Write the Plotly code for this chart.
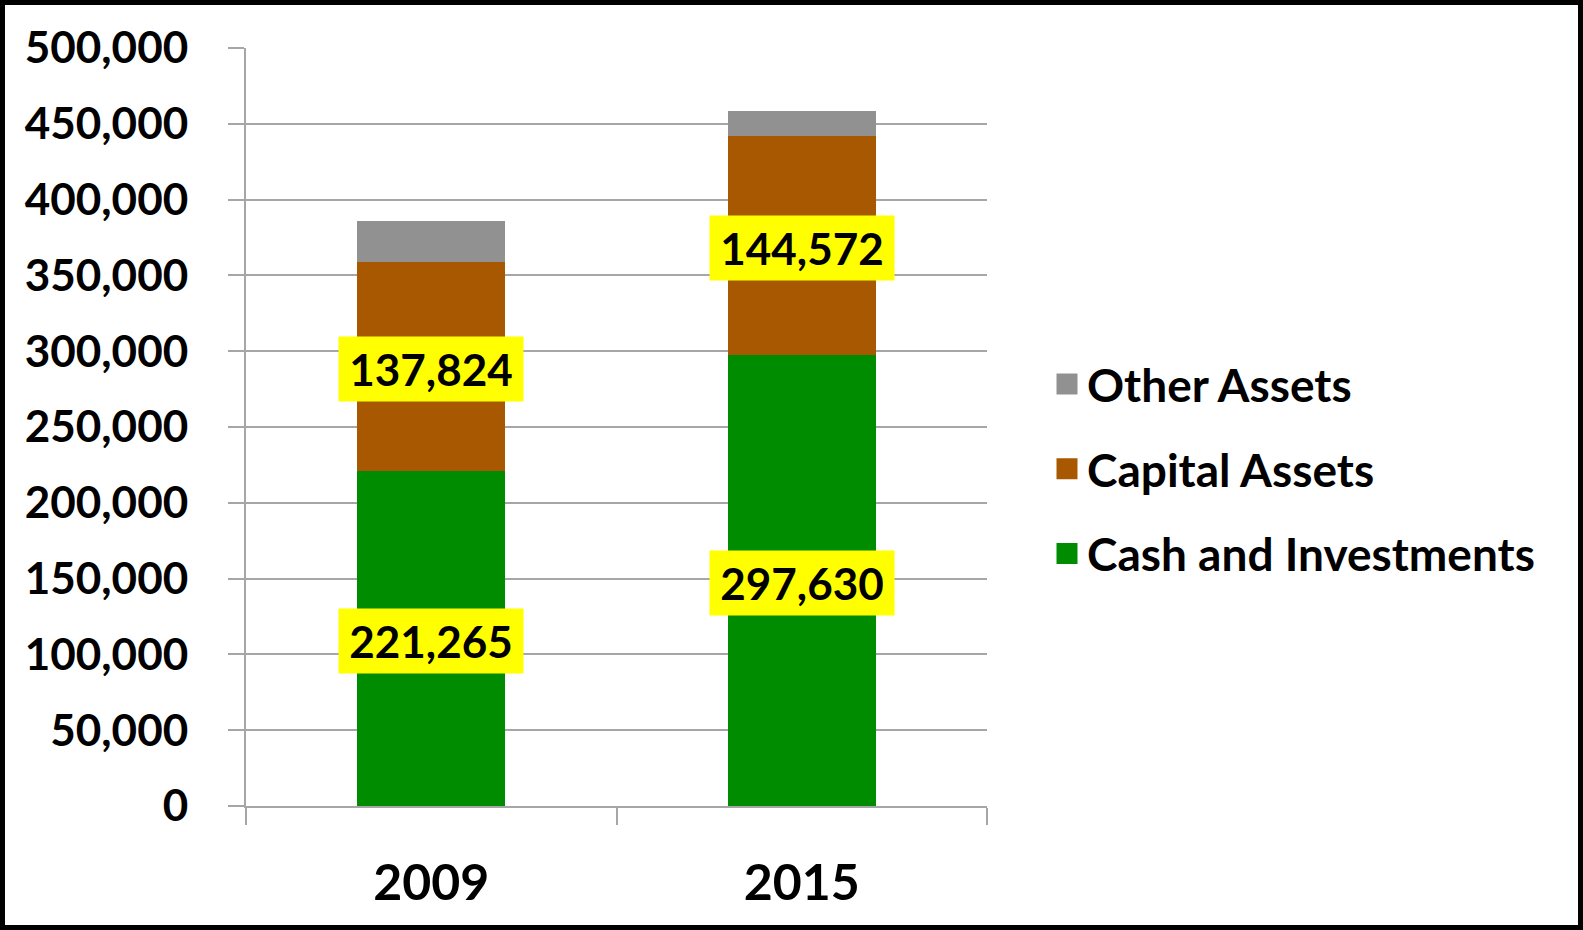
import plotly.graph_objects as go

categories = ["2009", "2015"]
cash = [221265, 297630]
capital = [137824, 144572]
other = [27000, 16500]
series_names = ["Cash and Investments", "Capital Assets", "Other Assets"]
colors = ["#008C00", "#A85800", "#919191"]

W, H = 1583, 930
L, R, T, B = 246, 596, 48, 124
pw, ph = W - L - R, H - T - B
FONT = "Lato"

fig = go.Figure()
for name, vals, col in zip(series_names, [cash, capital, other], colors):
    fig.add_trace(go.Bar(x=categories, y=vals, name=name, marker=dict(color=col, line=dict(width=0)),
                         showlegend=False, hoverinfo="y+name"))

# legend entries (larger square swatches)
for rank, (name, col) in enumerate(zip(series_names[::-1], colors[::-1])):
    fig.add_trace(go.Scatter(x=[categories[0]], y=[None], mode="markers", name=name, legendgroup=name,
                             legendrank=rank + 1, hoverinfo="skip",
                             marker=dict(symbol="square", size=16, color=col, line=dict(color=col, width=5))))

# data labels (category axis: use category index for the x position)
for i, c in enumerate(categories):
    for v, base in [(cash[i], 0), (capital[i], cash[i])]:
        fig.add_annotation(x=i, y=base + v / 2, xref="x", yref="y", text=f"{v:,}", showarrow=False,
                           bgcolor="#FFFF00", borderpad=6, width=172, yshift=-3,
                           font=dict(family=FONT, size=44, color="black", weight=700))

# outer black border
def px_x(p):
    return (p - L) / pw
def px_y(p):
    return 1 - (p - T) / ph
fig.add_shape(type="rect", xref="paper", yref="paper",
              x0=px_x(2.5), x1=px_x(W - 2.5), y0=px_y(H - 2.5), y1=px_y(2.5),
              line=dict(color="black", width=5), fillcolor="rgba(0,0,0,0)", layer="above")

fig.update_layout(
    width=W, height=H, barmode="stack", bargap=0.6,
    margin=dict(l=L, r=R, t=T, b=B, pad=0, autoexpand=False),
    paper_bgcolor="white", plot_bgcolor="white",
    font=dict(family=FONT, color="black"),
    legend=dict(xref="container", yref="container", x=1047 / W, y=1 - 469 / H,
                xanchor="left", yanchor="middle", traceorder="grouped", tracegroupgap=22,
                font=dict(family=FONT, size=46, color="black", weight=700),
                itemwidth=30, bgcolor="rgba(0,0,0,0)"),
    xaxis=dict(type="category", categoryorder="array", categoryarray=categories,
               range=[-0.5, len(categories) - 0.5], automargin=False,
               tickson="boundaries", ticks="outside", ticklen=17, tickwidth=2, tickangle=0,
               tickcolor="#A6A6A6", showline=True, linecolor="#A6A6A6", linewidth=2,
               showgrid=False, ticklabelstandoff=32,
               tickfont=dict(family=FONT, size=50, color="black", weight=700)),
    yaxis=dict(range=[0, 500000], dtick=50000, tickformat=",d", showgrid=True, automargin=False,
               gridcolor="#A6A6A6", gridwidth=2, zeroline=False, showline=True,
               linecolor="#A6A6A6", linewidth=2, ticks="outside", ticklen=16, tickwidth=2,
               tickcolor="#A6A6A6", ticklabelstandoff=31,
               tickfont=dict(family=FONT, size=44, color="black", weight=700)),
)

fig.write_html("out.html", config={"displayModeBar": False},
               post_script="document.body.style.margin='0px';document.body.style.overflow='hidden';")
